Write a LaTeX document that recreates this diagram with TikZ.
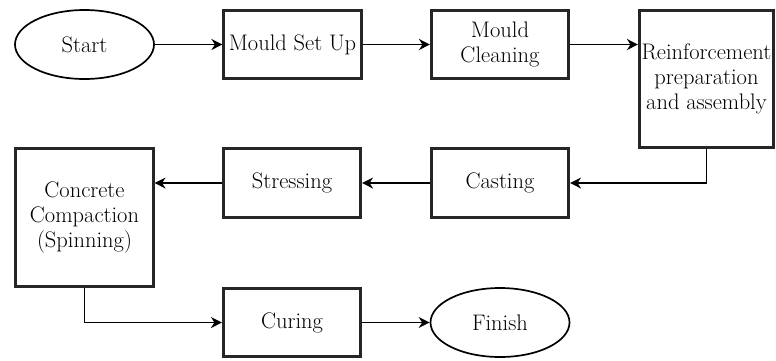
\documentclass[tikz,border=0pt]{standalone}
\usetikzlibrary{arrows.meta,shapes.geometric}
\begin{document}
\begin{tikzpicture}[x=1pt,y=1pt,
  txt/.style={font=\fontsize{22.5}{25}\selectfont, text=black, align=center, inner sep=0pt},
  procbox/.style={txt, rectangle, draw=black!85, line width=2.6pt, minimum width=137.5pt, minimum height=68.5pt},
  term/.style={txt, ellipse, draw=black, line width=1.7pt, minimum width=139pt, minimum height=69pt},
  flow/.style={line width=1.3pt, draw=black, -{Stealth[length=11pt,width=11pt,inset=3.5pt]}}
]
\useasboundingbox (0,0) rectangle (776,-360);
\node[term] (start) at (84.5,-44.5) {Start};
\node[procbox] (setup) at (292.5,-44.5) {Mould Set Up};
\node[procbox] (clean) at (500,-44.5) {Mould\\Cleaning};
\node[procbox, minimum width=134.5pt, minimum height=137.5pt] (reinf) at (706.5,-79) {Reinforcement\\preparation\\and assembly};
\node[procbox] (cast) at (500,-183) {Casting};
\node[procbox] (stress) at (292,-183) {Stressing};
\node[procbox, minimum height=138pt] (compact) at (84.5,-217.5) {Concrete\\Compaction\\(Spinning)};
\node[procbox] (cure) at (292,-322.5) {Curing};
\node[term] (finish) at (500,-322.5) {Finish};
\coordinate (rdown) at (reinf.south |- cast.east);
\coordinate (cin) at (compact.east |- stress.west);
\coordinate (cdown) at (compact.south |- cure.west);
\draw[flow] (start) -- (setup);
\draw[flow] (setup) -- (clean);
\draw[flow] (clean.east) -- (reinf.west |- clean.east);
\draw[flow] (reinf.south) -- (rdown) -- (cast.east);
\draw[flow] (cast) -- (stress);
\draw[flow] (stress.west) -- (cin);
\draw[flow] (compact.south) -- (cdown) -- (cure.west);
\draw[flow] (cure) -- (finish);
\end{tikzpicture}
\end{document}
